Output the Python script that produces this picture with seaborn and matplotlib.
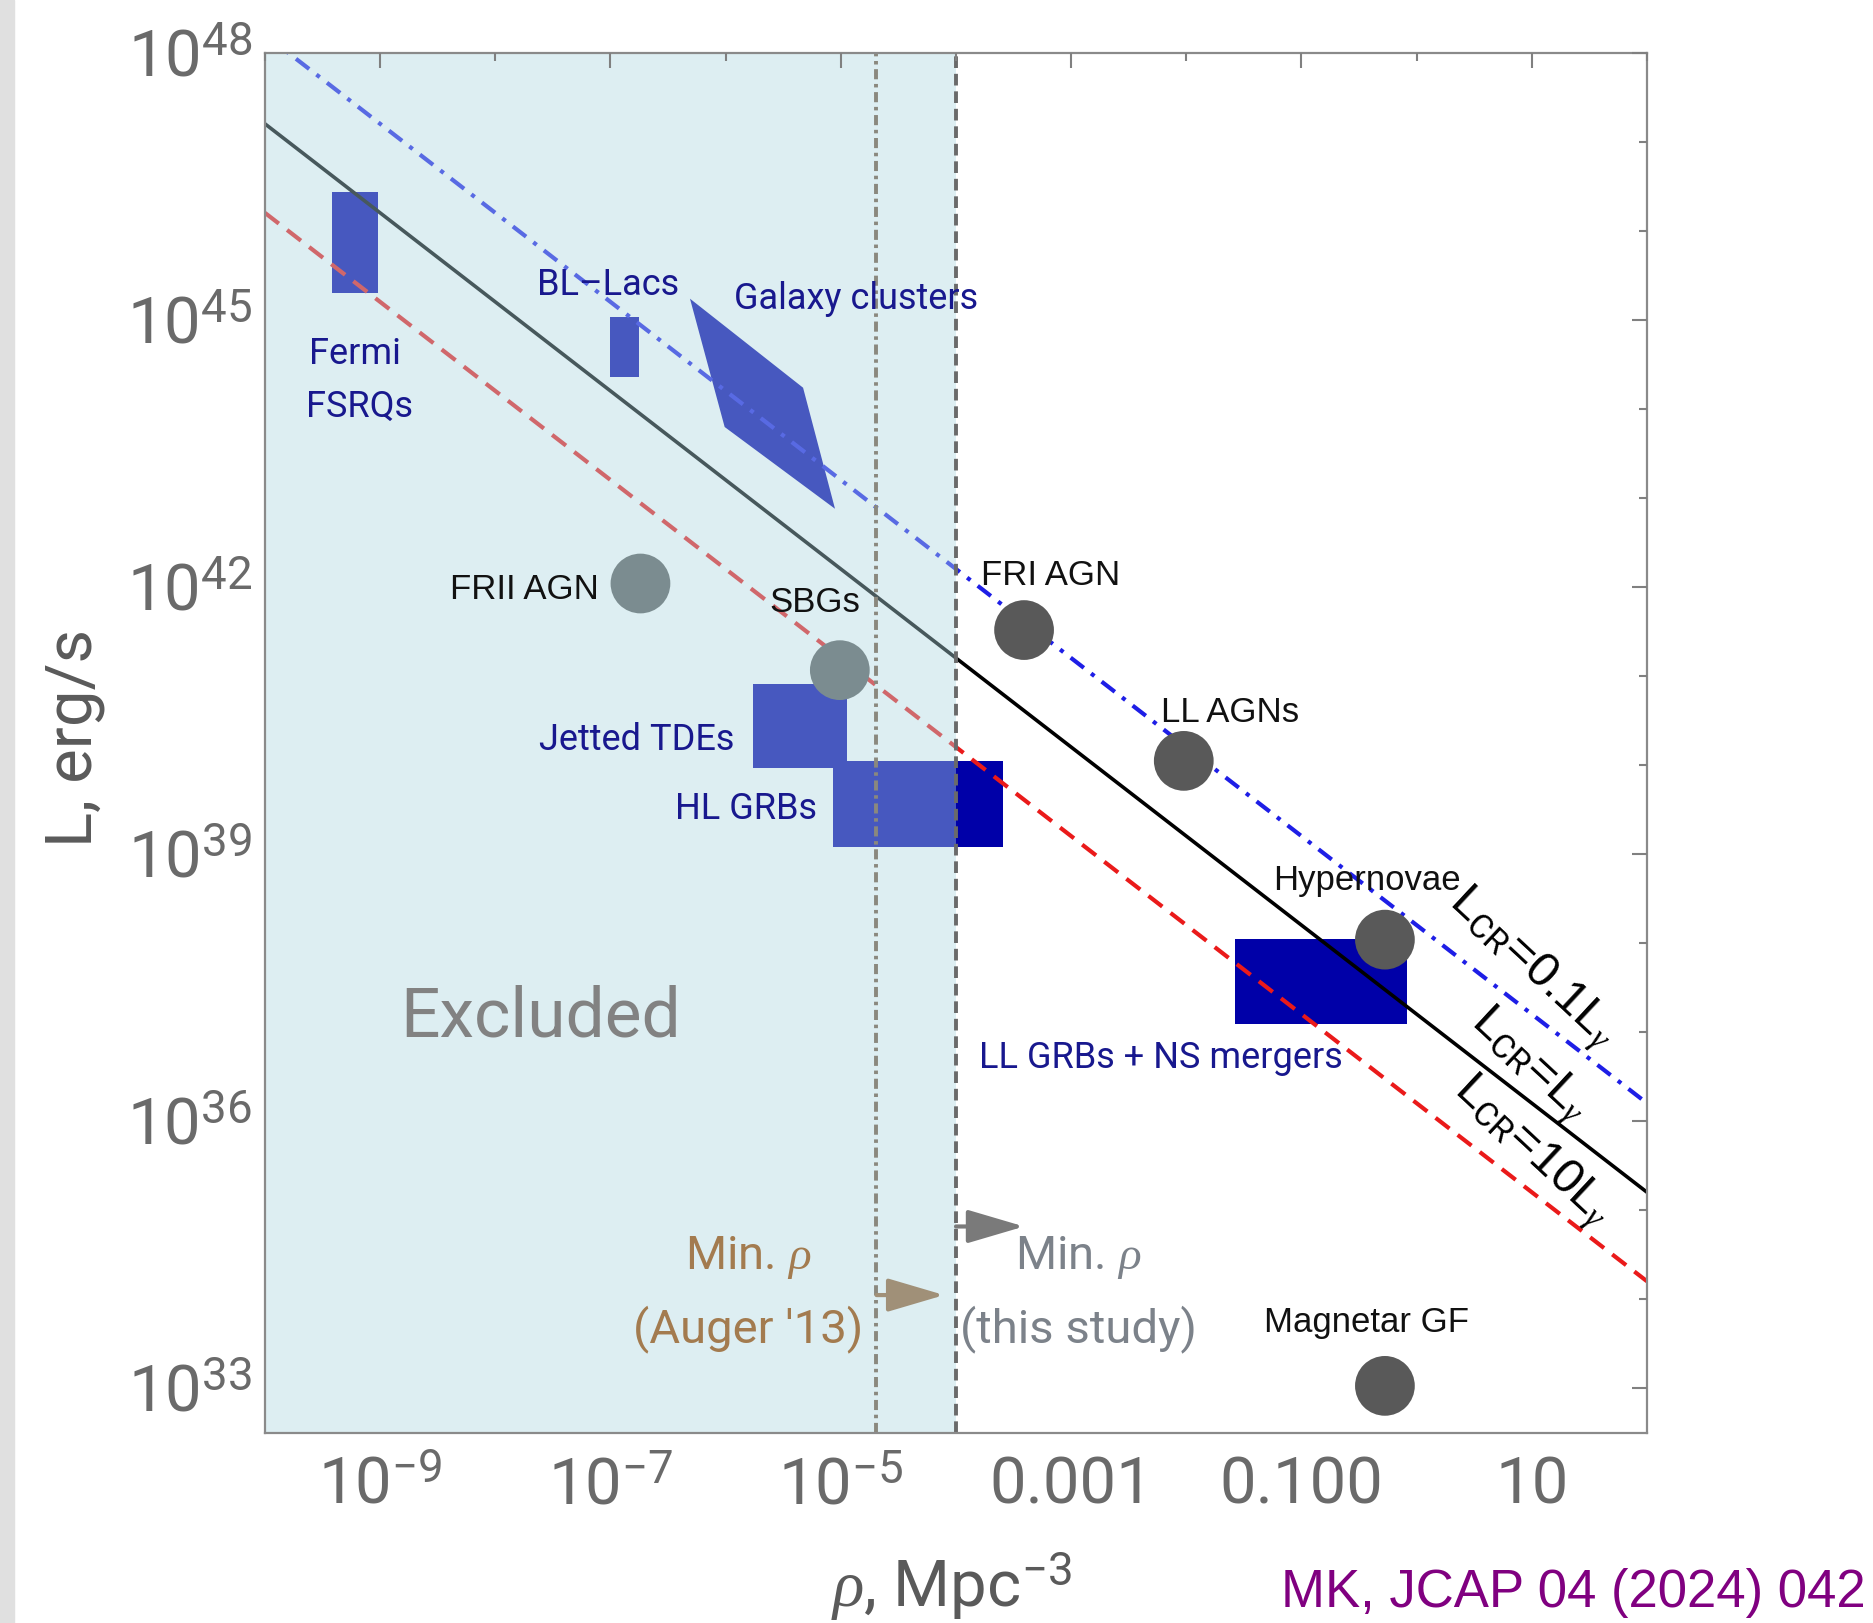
import matplotlib
matplotlib.use('Agg')
import matplotlib.pyplot as plt
from matplotlib.patches import Rectangle
from matplotlib.ticker import NullFormatter
from matplotlib.transforms import ScaledTranslation
import seaborn as sns

# source classes drawn as boxes: density (Mpc^-3) and luminosity (erg/s) ranges
box_names = ['Fermi FSRQs', 'BL Lacs', 'Jetted TDEs', 'HL GRBs', 'LL GRBs + NS mergers']
box_rho_lo = [3.8e-10, 1.0e-7, 1.74e-6, 8.5e-6, 2.64e-2]
box_rho_hi = [9.5e-10, 1.78e-7, 1.12e-5, 2.57e-4, 0.82]
box_L_lo = [2.0e45, 2.3e44, 9.3e39, 1.2e39, 1.23e37]
box_L_hi = [2.75e46, 1.07e45, 8.1e40, 1.12e40, 1.12e38]

# galaxy clusters region (polygon corners)
clusters_rho = [4.9e-7, 4.7e-6, 8.9e-6, 9.8e-7]
clusters_L = [1.74e45, 1.74e44, 7.6e42, 6.3e43]

# point-like classes
dot_names = ['FRII AGN', 'SBGs', 'FRI AGN', 'LL AGNs', 'Hypernovae', 'Magnetar GF']
dot_rho = [1.82e-7, 9.8e-6, 3.9e-4, 9.5e-3, 0.53, 0.53]
dot_L = [1.1e42, 1.17e41, 3.3e41, 1.12e40, 1.1e38, 1.07e33]

# L = const / rho lines, end points at the axis limits
line_rho = [1e-10, 1e2]
L_01 = [1.6e48, 1.6e36]   # L_CR = 0.1 L_gamma
L_1 = [1.6e47, 1.6e35]    # L_CR = L_gamma
L_10 = [1.6e46, 1.6e34]   # L_CR = 10 L_gamma

# minimal density limits
rho_min_auger = 2.04e-5
rho_min_this = 1.0e-4
arrow_tip_auger = 7.9e-5
arrow_tip_this = 3.9e-4

xtick_vals = [1e-9, 1e-7, 1e-5, 1e-3, 1e-1, 1e1]
xtick_labels = [r'$10^{-9}$', r'$10^{-7}$', r'$10^{-5}$', '0.001', '0.100', '10']
xminor_vals = [1e-10, 1e-8, 1e-6, 1e-4, 1e-2, 1e0, 1e2]
ytick_vals = [1e33, 1e36, 1e39, 1e42, 1e45, 1e48]
ytick_labels = [r'$10^{33}$', r'$10^{36}$', r'$10^{39}$', r'$10^{42}$', r'$10^{45}$', r'$10^{48}$']
yminor_vals = [1e34, 1e35, 1e37, 1e38, 1e40, 1e41, 1e43, 1e44, 1e46, 1e47]

sns.set_theme(style='white')
plt.rcParams['font.family'] = ['Roboto', 'DejaVu Sans']
plt.rcParams['mathtext.fontset'] = 'custom'
plt.rcParams['mathtext.rm'] = 'Roboto'
plt.rcParams['mathtext.it'] = 'Liberation Serif:italic'
plt.rcParams['mathtext.bf'] = 'Roboto:bold'
plt.rcParams['mathtext.fallback'] = 'stixsans'

navy = '#0000A8'
navy_txt = '#18188E'

fig = plt.figure(figsize=(18.73, 16.23), dpi=100)
fig.add_artist(Rectangle((0, 0), 14 / 1873, 1, transform=fig.transFigure,
                         color='#E0E0E0', zorder=-1))
ax = fig.add_axes([265 / 1873, 1 - 1433 / 1623, 1382 / 1873, 1380 / 1623])
ax.set_xscale('log')
ax.set_yscale('log')
ax.set_xlim(1e-10, 1e2)
ax.set_ylim(10 ** 32.5, 1e48)

# shapes and lines (under the "excluded" veil)
for x0, x1, y0, y1 in zip(box_rho_lo, box_rho_hi, box_L_lo, box_L_hi):
    ax.fill_between([x0, x1], y0, y1, color=navy, lw=0, zorder=2)
ax.fill(clusters_rho, clusters_L, color=navy, lw=0, zorder=2)

ax.plot(line_rho, L_01, color='#1E1EE6', lw=3.0, dashes=(4.0, 2.2, 1.0, 2.2), zorder=2)
ax.plot(line_rho, L_1, color='black', lw=2.6, zorder=2)
ax.plot(line_rho, L_10, color='#EA1A1A', lw=3.0, dashes=(4.2, 2.5), zorder=2)

sns.scatterplot(x=dot_rho, y=dot_L, s=1850, color='#595959', edgecolor='none',
                linewidth=0, zorder=2.5, ax=ax, legend=False)

# excluded region
ax.axvspan(1e-10, rho_min_this, color=(173 / 255, 215 / 255, 224 / 255), alpha=0.41,
           lw=0, zorder=3)
ax.axvline(rho_min_auger, color='#8A887E', lw=2.8, dashes=(2.6, 1.2, 0.9, 1.2), zorder=4)
ax.axvline(rho_min_this, color='#6A6A6A', lw=2.8, dashes=(3.0, 1.5), zorder=4)

arrow_style = '-|>,head_length=0.95,head_width=0.28'
ax.annotate('', xy=(arrow_tip_this, 6.6e34), xytext=(rho_min_this, 6.6e34),
            arrowprops=dict(arrowstyle=arrow_style, mutation_scale=37,
                            color='#7A7A7A', lw=3, shrinkA=0, shrinkB=0), zorder=5)
ax.annotate('', xy=(arrow_tip_auger, 1.12e34), xytext=(rho_min_auger, 1.12e34),
            arrowprops=dict(arrowstyle=arrow_style, mutation_scale=37,
                            color='#A09078', lw=3, shrinkA=0, shrinkB=0), zorder=5)

# labels
blue_kw = dict(color=navy_txt, fontsize=26, ha='center', va='center', zorder=5)
black_kw = dict(color='#111111', fontsize=25, ha='center', va='center', zorder=5,
                family='Liberation Sans')
ax.text(6.0e-10, 4.2e44, 'Fermi', **blue_kw)
ax.text(6.6e-10, 1.05e44, 'FSRQs', **blue_kw)
ax.text(9.5e-8, 2.5e45, 'BL\u2013Lacs', **blue_kw)
ax.text(1.35e-5, 1.74e45, 'Galaxy clusters', **blue_kw)
ax.text(1.7e-7, 1.9e40, 'Jetted TDEs', **blue_kw)
ax.text(1.5e-6, 3.2e39, 'HL GRBs', **blue_kw)
ax.text(6.0e-3, 5.1e36, 'LL GRBs + NS mergers', **blue_kw)

ax.text(1.78e-8, 9.5e41, 'FRII AGN', **black_kw)
ax.text(5.9e-6, 6.8e41, 'SBGs', **black_kw)
ax.text(6.6e-4, 1.35e42, 'FRI AGN', **black_kw)
ax.text(2.4e-2, 3.9e40, 'LL AGNs', **black_kw)
ax.text(0.37, 5.1e38, 'Hypernovae', **black_kw)
ax.text(0.37, 5.5e33, 'Magnetar GF', **black_kw)

ax.text(2.45e-8, 1.45e37, 'Excluded', color='#828282', fontsize=50,
        ha='center', va='center', zorder=5)
ax.text(1.58e-6, 2.95e34, r'Min. $\rho$', color='#A37B4F', fontsize=34,
        ha='center', va='center', zorder=5)
ax.text(1.58e-6, 4.6e33, "(Auger '13)", color='#A37B4F', fontsize=34,
        ha='center', va='center', zorder=5)
ax.text(1.15e-3, 2.95e34, r'Min. $\rho$', color='#7C828A', fontsize=34,
        ha='center', va='center', zorder=5)
ax.text(1.15e-3, 4.6e33, '(this study)', color='#7C828A', fontsize=34,
        ha='center', va='center', zorder=5)

rot_kw = dict(color='black', fontsize=35, rotation=-43, rotation_mode='anchor',
              ha='center', va='center', family='Liberation Sans', zorder=5)
ax.text(10, 5.2e37, r'L$_{\mathrm{CR}}$=0.1L$_{\gamma}$', **rot_kw)
ax.text(9.5, 4.3e36, r'L$_{\mathrm{CR}}$=L$_{\gamma}$', **rot_kw)
ax.text(10, 4.6e35, r'L$_{\mathrm{CR}}$=10L$_{\gamma}$', **rot_kw)

# axes styling
for s in ax.spines.values():
    s.set_color('#8A8A8A')
    s.set_linewidth(1.6)
    s.set_zorder(6)
ax.xaxis.set_zorder(6)
ax.yaxis.set_zorder(6)

ax.set_xticks(xtick_vals, xtick_labels)
ax.set_xticks(xminor_vals, minor=True)
ax.set_yticks(ytick_vals, ytick_labels)
ax.set_yticks(yminor_vals, minor=True)
ax.xaxis.set_minor_formatter(NullFormatter())
ax.yaxis.set_minor_formatter(NullFormatter())
ax.tick_params(which='both', direction='in', top=True, right=True,
               color='#808080', width=1.5, labelsize=47, labelcolor='#6A6A6A')
ax.tick_params(which='major', length=11)
ax.tick_params(which='minor', length=5.5)
ax.tick_params(axis='x', which='major', pad=51)
ax.tick_params(axis='y', which='major', pad=9)
for t in ax.xaxis.get_major_ticks():
    t.label1.set_va('baseline')
for t in ax.yaxis.get_major_ticks():
    t.label1.set_va('baseline')
    t.label1.set_transform(t.label1.get_transform()
                           + ScaledTranslation(0, -0.23, fig.dpi_scale_trans))

ax.text(-0.138, 0.504, 'L, erg/s', transform=ax.transAxes, rotation=90,
        ha='center', va='center', fontsize=47, color='#5A5A5A')
ax.text(0.497, -0.126, r'$\rho$, Mpc$^{-3}$', transform=ax.transAxes,
        ha='center', va='baseline', fontsize=47, color='#5A5A5A')

fig.text(1866 / 1873, 1 - 1607 / 1623, 'MK, JCAP 04 (2024) 042', ha='right',
         va='baseline', fontsize=38, color='#800080', family='Liberation Sans')

fig.savefig('out.png', dpi=100)
